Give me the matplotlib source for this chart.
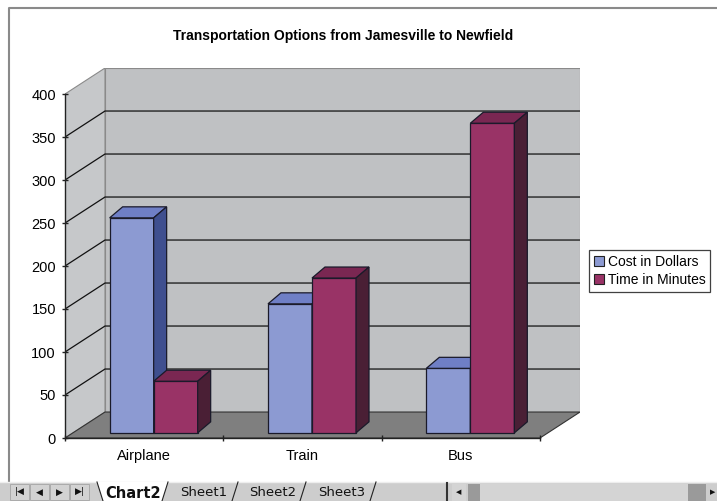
import matplotlib
matplotlib.use("Agg")
import matplotlib.pyplot as plt
from matplotlib.patches import Polygon, Rectangle

plt.rcParams['font.family'] = ['Liberation Sans', 'DejaVu Sans']

# data
categories = ['Airplane', 'Train', 'Bus']
series = ['Cost in Dollars', 'Time in Minutes']
cost = [250, 150, 75]
minutes = [60, 180, 360]
yticks = [0, 50, 100, 150, 200, 250, 300, 350, 400]
tabs = ['Chart2', 'Sheet1', 'Sheet2', 'Sheet3']

# colours (front, top, side) per series
colors = [('#8c9ad2', '#6f7fc6', '#3f4f8f'),
          ('#993366', '#7a2752', '#4a1f35')]

W, H = 717, 501
fig = plt.figure(figsize=(W / 100, H / 100), dpi=100)
fig.patch.set_facecolor('white')

# 3d offsets (data units)
DX, DY = 0.2526, 30.2       # wall depth
BW = 0.278                  # bar width
OX, OY = 0.06, 6.0          # bar front face offset
BDX, BDY = 0.082, 12.8      # bar depth

# axes in pixels: x=-0.5 -> 65px, 2.5 -> 540px ; y=0 -> 438px, 400 -> 94px
x0, x1 = -0.5, 2.5 + DX
y0, y1 = 0, 400 + DY
px_x = 475 / 3
px_y = 344 / 400
left = 65
right = left + (x1 - x0) * px_x
bottom = 438
top = bottom - (y1 - y0) * px_y
ax = fig.add_axes([left / W, 1 - bottom / H, (right - left) / W, (bottom - top) / H])
ax.set_xlim(x0, x1)
ax.set_ylim(y0, y1)
ax.patch.set_visible(False)

# walls
ax.add_patch(Polygon([(-0.5 + DX, DY), (2.5 + DX, DY), (2.5 + DX, 400 + DY), (-0.5 + DX, 400 + DY)],
                     closed=True, facecolor='#bfc1c3', edgecolor='#8a8a8a', lw=0.8, zorder=1))
ax.add_patch(Polygon([(-0.5, 0), (-0.5 + DX, DY), (-0.5 + DX, 400 + DY), (-0.5, 400)],
                     closed=True, facecolor='#c6c8ca', edgecolor='#8a8a8a', lw=0.8, zorder=1))
ax.add_patch(Polygon([(-0.5, 0), (2.5, 0), (2.5 + DX, DY), (-0.5 + DX, DY)],
                     closed=True, facecolor='#7f7f7f', edgecolor='#333333', lw=0.8, zorder=1))
for v in yticks[1:-1]:
    ax.plot([-0.5, -0.5 + DX, 2.5 + DX], [v, v + DY, v + DY], color='#111111', lw=0.9, zorder=2)

# bars
data = [cost, minutes]
for i in range(len(categories)):
    for s in range(2):
        xl = i - BW + s * BW + OX
        v = data[s][i]
        fc, tc, sc = colors[s]
        z = 3 + i * 2 + s * 0.5
        ax.bar(xl, v, width=BW, bottom=OY, align='edge', color=fc,
               edgecolor='#1a1a2a', lw=0.9, zorder=z)
        top_face = [(xl, OY + v), (xl + BW, OY + v), (xl + BW + BDX, OY + v + BDY), (xl + BDX, OY + v + BDY)]
        side_face = [(xl + BW, OY), (xl + BW + BDX, OY + BDY), (xl + BW + BDX, OY + v + BDY), (xl + BW, OY + v)]
        ax.add_patch(Polygon(top_face, closed=True, facecolor=tc, edgecolor='#1a1a2a', lw=0.9, zorder=z))
        ax.add_patch(Polygon(side_face, closed=True, facecolor=sc, edgecolor='#1a1a2a', lw=0.9, zorder=z))

# axes
for sp in ['top', 'right']:
    ax.spines[sp].set_visible(False)
ax.spines['left'].set_bounds(0, 400)
ax.spines['bottom'].set_bounds(-0.5, 2.5)
ax.spines['left'].set_position(('data', -0.5))
for sp in ['left', 'bottom']:
    ax.spines[sp].set_color('#222222')
    ax.spines[sp].set_linewidth(1.0)
    ax.spines[sp].set_zorder(10)
ax.set_yticks(yticks)
ax.set_yticklabels([str(v) for v in yticks], fontsize=10.5)
ax.set_xticks([-0.5, 0.5, 1.5, 2.5])
ax.set_xticklabels([])
ax.set_xticks(range(len(categories)), minor=True)
ax.set_xticklabels(categories, minor=True, fontsize=10.5)
ax.tick_params(axis='x', which='minor', length=0, pad=8)
ax.tick_params(axis='both', which='major', length=5, width=1.0, color='#222222', direction='inout')
ax.tick_params(axis='y', pad=4)

fig.text(343 / W, 1 - 36 / H, 'Transportation Options from Jamesville to Newfield',
         ha='center', va='center', fontsize=10, fontweight='bold')

handles = [Rectangle((0, 0), 1, 1, facecolor=colors[s][0], edgecolor='#222222', lw=0.8) for s in range(2)]
leg = fig.legend(handles, series, loc='upper left', bbox_to_anchor=(589 / W, 1 - 250 / H),
                 fontsize=10, frameon=True, fancybox=False, handlelength=0.7, handleheight=0.7,
                 handletextpad=0.3, borderpad=0.35, labelspacing=0.3, borderaxespad=0)
leg.get_frame().set_edgecolor('#111111')
leg.get_frame().set_linewidth(0.9)

# window decoration (pixel overlay)
ov = fig.add_axes([0, 0, 1, 1], zorder=-1)
ov.set_xlim(0, W)
ov.set_ylim(H, 0)
ov.axis('off')
ov.plot([9, 9, W], [482, 8, 8], color='#8a8a8a', lw=1.5)
ov2 = fig.add_axes([0, 0, 1, 1], zorder=20)
ov2.set_xlim(0, W)
ov2.set_ylim(H, 0)
ov2.axis('off')
ov2.add_patch(Rectangle((0, 482), W, 19, facecolor='#cdcdcd', edgecolor='none'))
ov2.plot([0, W], [482, 482], color='#eeeeee', lw=1)
glyphs = ['|\u25C0', '\u25C0', '\u25B6', '\u25B6|']
for k, bx in enumerate([10, 30, 50, 70]):
    ov2.add_patch(Rectangle((bx, 484), 19, 16, facecolor='#d2d2d2', edgecolor='#a5a5a5', lw=0.6))
    ov2.text(bx + 9.5, 492, glyphs[k], ha='center', va='center', fontsize=6.5, color='#111111',
             family=['DejaVu Sans'])
# tabs
tab_x = [97, 168, 238, 306]
tab_w = [71, 70, 68, 70]
for k, name in enumerate(tabs):
    xa = tab_x[k]
    xb = xa + tab_w[k]
    if k == 0:
        ov2.add_patch(Polygon([(xa, 482), (xa + 6, 501), (xb - 6, 501), (xb, 482)], closed=True,
                              facecolor='white', edgecolor='none', zorder=3))
        ov2.plot([xa, xa + 6], [482, 501], color='#222222', lw=0.8, zorder=4)
    ov2.plot([xb - 6, xb], [501, 482], color='#222222', lw=0.8, zorder=4)
    ov2.text((xa + xb) / 2 + 1, 493, name, ha='center', va='center', fontsize=10.5 if k == 0 else 9.5,
             fontweight='bold' if k == 0 else 'normal', color='#111111', zorder=5,
             family=['DejaVu Sans'])
# scrollbar
ov2.plot([447, 447], [483, 501], color='#333333', lw=1.5)
ov2.add_patch(Rectangle((452, 484), 14, 17, facecolor='#d4d4d4', edgecolor='none'))
ov2.text(459, 492, '\u25C0', ha='center', va='center', fontsize=5, color='#111111', family=['DejaVu Sans'])
ov2.add_patch(Rectangle((468, 484), 12, 17, facecolor='#9a9a9a', edgecolor='none'))
ov2.add_patch(Rectangle((480, 484), 208, 17, facecolor='#d4d4d4', edgecolor='none'))
ov2.add_patch(Rectangle((688, 484), 18, 17, facecolor='#9a9a9a', edgecolor='none'))
ov2.text(713, 492, '\u25B6', ha='center', va='center', fontsize=5, color='#111111', family=['DejaVu Sans'])

fig.savefig('out.png', dpi=100)
